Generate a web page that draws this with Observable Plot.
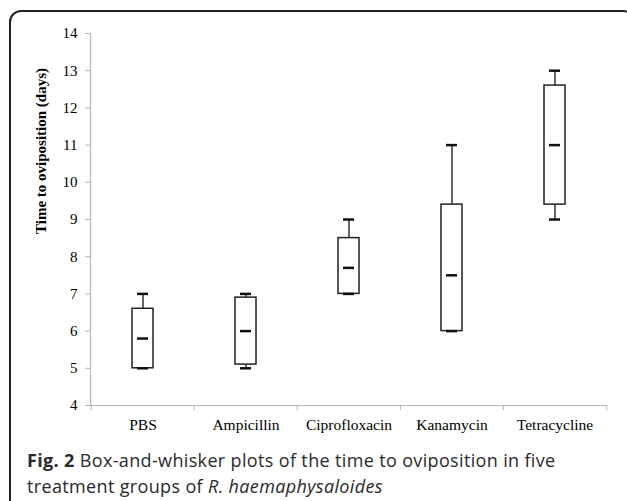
<!DOCTYPE html>
<html>
<head>
<meta charset="utf-8">
<script src="https://cdn.jsdelivr.net/npm/d3@7"></script>
<script src="https://cdn.jsdelivr.net/npm/@observablehq/plot@0.6"></script>
<style>
  html, body { margin: 0; padding: 0; background: #fff; }
  body { width: 627px; height: 501px; overflow: hidden; position: relative; }
  #frame { position: absolute; left: 9px; top: 10px; width: 626px; height: 520px;
           border: 2px solid #222; border-top-left-radius: 12px; border-top-right-radius: 12px; box-sizing: border-box; }
  #chart { position: absolute; left: 0; top: 0; }
  #ylabel { position: absolute; left: 41px; top: 151px; transform: translate(-50%, -50%) rotate(-90deg);
            font: bold 15px "Liberation Serif", "Times New Roman", serif; white-space: nowrap; color: #000; }
  #caption { position: absolute; left: 27px; top: 447px; width: 595px; white-space: nowrap;
             font: 18px "Open Sans", sans-serif; letter-spacing: 0.35px; line-height: 26px; color: #2a2a2a; }
</style>
</head>
<body>
<div id="frame"></div>
<div id="chart"></div>
<div id="ylabel">Time to oviposition (days)</div>
<div id="caption"><b>Fig. 2</b> Box-and-whisker plots of the time to oviposition in five<br>treatment groups of <i>R. haemaphysaloides</i></div>
<script>
const groups = ["PBS", "Ampicillin", "Ciprofloxacin", "Kanamycin", "Tetracycline"];
const minVals = [5, 5, 7, 6, 9];
const q1Vals = [5, 5.1, 7, 6, 9.4];
const medianVals = [5.8, 6, 7.7, 7.5, 11];
const q3Vals = [6.6, 6.9, 8.5, 9.4, 12.6];
const maxVals = [7, 7, 9, 11, 13];
const yTicks = [4, 5, 6, 7, 8, 9, 10, 11, 12, 13, 14];

const data = groups.map((g, i) => ({g, min: minVals[i], q1: q1Vals[i], med: medianVals[i], q3: q3Vals[i], max: maxVals[i]}));

const W = 627, ML = 90, MR = 20;
const bw = (W - ML - MR) / groups.length;
const serif = "'Liberation Serif', 'Times New Roman', serif";

const chart = Plot.plot({
  width: W,
  height: 440,
  marginLeft: ML,
  marginRight: MR,
  marginTop: 33,
  marginBottom: 35,
  style: {fontFamily: serif, fontSize: "15.5px", background: "transparent", color: "#000"},
  x: {domain: groups, padding: 0},
  y: {domain: [4, 14]},
  marks: [
    Plot.frame({anchor: "left", stroke: "#b5b5b5", strokeWidth: 1.2}),
    Plot.ruleY([4], {stroke: "#b5b5b5", strokeWidth: 1.2}),
    Plot.axisY({ticks: yTicks, tickSize: 5, tickPadding: 8, stroke: "#b5b5b5", fill: "#000", label: null, fontSize: 15}),
    Plot.axisX({tickSize: 0, tickPadding: 13, label: null, fill: "#000", fontSize: 15.5}),
    Plot.axisX({tickSize: 5, tickFormat: () => "", label: null, stroke: "#b5b5b5", dx: -bw / 2}),
    Plot.axisX({ticks: [groups[groups.length - 1]], tickSize: 5, tickFormat: () => "", label: null, stroke: "#b5b5b5", dx: bw / 2}),
    Plot.ruleX(data, {x: "g", y1: "q3", y2: "max", stroke: "#333", strokeWidth: 1.5}),
    Plot.ruleX(data, {x: "g", y1: "min", y2: "q1", stroke: "#333", strokeWidth: 1.5}),
    Plot.barY(data, {x: "g", y1: "q1", y2: "q3", fill: "white", stroke: "#222", strokeWidth: 1.5, insetLeft: 41, insetRight: 41}),
    Plot.tickY(data, {x: "g", y: "med", stroke: "#111", strokeWidth: 2.5, insetLeft: 46, insetRight: 46}),
    Plot.tickY(data, {x: "g", y: "max", stroke: "#111", strokeWidth: 2.5, insetLeft: 46, insetRight: 46}),
    Plot.tickY(data, {x: "g", y: "min", stroke: "#111", strokeWidth: 2.5, insetLeft: 46, insetRight: 46})
  ]
});
document.getElementById("chart").appendChild(chart);
</script>
</body>
</html>
